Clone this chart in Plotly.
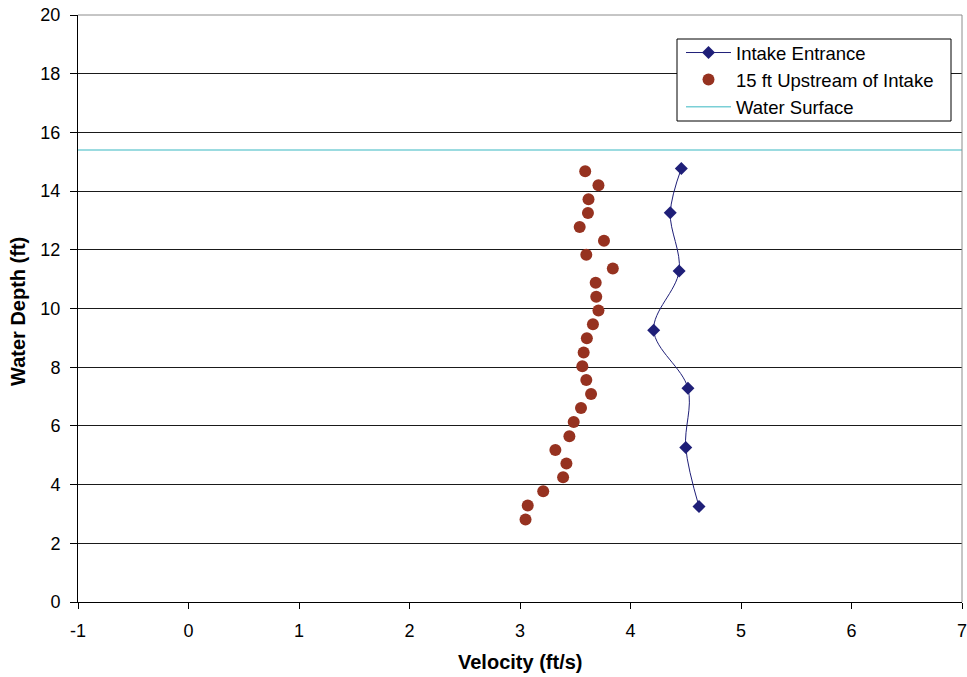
import plotly.graph_objects as go

# Intake Entrance
intake_velocity = [4.46, 4.36, 4.44, 4.21, 4.52, 4.50, 4.62]
intake_depth = [14.77, 13.26, 11.28, 9.26, 7.28, 5.26, 3.25]

# 15 ft Upstream of Intake
up_velocity = [3.59, 3.71, 3.62, 3.615, 3.54, 3.76, 3.60, 3.84, 3.685, 3.69, 3.71, 3.66, 3.605,
               3.576, 3.564, 3.60, 3.643, 3.552, 3.486, 3.447, 3.32, 3.42, 3.39, 3.21, 3.07, 3.05]
up_depth = [14.68, 14.20, 13.72, 13.25, 12.78, 12.31, 11.83, 11.36, 10.88, 10.40, 9.93, 9.46, 8.99,
            8.50, 8.03, 7.56, 7.09, 6.61, 6.13, 5.65, 5.18, 4.72, 4.25, 3.77, 3.29, 2.81]

# Water surface
surface_velocity = [-1, 7]
surface_depth = [15.4, 15.4]

# Tick labels
x_ticks = [-1, 0, 1, 2, 3, 4, 5, 6, 7]
x_tick_labels = ["-1", "0", "1", "2", "3", "4", "5", "6", "7"]
y_ticks = [0, 2, 4, 6, 8, 10, 12, 14, 16, 18, 20]
y_tick_labels = [str(v) for v in y_ticks]

font_family = "Liberation Sans, Arial, sans-serif"

W, H = 967, 677
L, R, T, B = 78, 5, 15, 75
PW, PH = W - L - R, H - T - B


def px_x(p):
    return (p - L) / PW


def px_y(p):
    return (H - B - p) / PH


fig = go.Figure()
fig.add_trace(go.Scatter(
    x=intake_velocity, y=intake_depth, mode="lines+markers", name="Intake Entrance",
    line=dict(color="#1F1F78", width=1, shape="spline", smoothing=1.0),
    marker=dict(symbol="diamond", size=10, color="#1F1F78"),
))
fig.add_trace(go.Scatter(
    x=up_velocity, y=up_depth, mode="markers", name="15 ft Upstream of Intake",
    marker=dict(symbol="circle", size=12, color="#963220"),
))
fig.add_trace(go.Scatter(
    x=surface_velocity, y=surface_depth, mode="lines", name="Water Surface",
    line=dict(color="#7ACFD6", width=1.5),
))

fig.update_layout(
    width=W, height=H,
    margin=dict(l=L, r=R, t=T, b=B, autoexpand=False),
    paper_bgcolor="white", plot_bgcolor="white",
    font=dict(family=font_family, size=18, color="black"),
    showlegend=True,
    legend=dict(
        x=px_x(681), y=px_y(34), xanchor="left", yanchor="top",
        bgcolor="rgba(0,0,0,0)", borderwidth=0,
        font=dict(size=18.5), tracegroupgap=0, itemwidth=45,
    ),
    xaxis=dict(
        range=[-1, 7], tickvals=x_ticks, ticktext=x_tick_labels,
        showgrid=False, zeroline=False, automargin=False,
        showline=True, linecolor="black", linewidth=1,
        ticks="outside", ticklen=6, tickcolor="black", ticklabelstandoff=6,
        ticklabeloverflow="allow",
    ),
    yaxis=dict(
        range=[0, 20], tickvals=y_ticks, ticktext=y_tick_labels,
        showgrid=True, gridcolor="#1a1a1a", gridwidth=1,
        zeroline=False, automargin=False,
        showline=True, linecolor="black", linewidth=1,
        ticks="outside", ticklen=7, tickcolor="black", ticklabelstandoff=6,
        ticklabeloverflow="allow",
    ),
    shapes=[
        # gray plot-area border (top / right)
        dict(type="line", xref="paper", yref="paper", x0=0, x1=1, y0=1, y1=1,
             line=dict(color="#8c8c8c", width=1), layer="above"),
        dict(type="line", xref="paper", yref="paper", x0=1, x1=1, y0=0, y1=1,
             line=dict(color="#8c8c8c", width=1), layer="above"),
        # legend box
        dict(type="rect", xref="paper", yref="paper",
             x0=px_x(677), x1=px_x(951), y0=px_y(121), y1=px_y(39),
             line=dict(color="black", width=1), fillcolor="white", layer="above"),
    ],
    annotations=[
        dict(text="<b>Velocity (ft/s)</b>", xref="paper", yref="paper",
             x=px_x(520), y=px_y(662), xanchor="center", yanchor="middle",
             showarrow=False, font=dict(size=20)),
        dict(text="<b>Water Depth (ft)</b>", xref="paper", yref="paper",
             x=px_x(18), y=px_y(312), xanchor="center", yanchor="middle",
             textangle=-90, showarrow=False, font=dict(size=20)),
    ],
)

fig.write_html(
    "out.html",
    config={"displayModeBar": False},
    post_script="document.body.style.margin='0';document.body.style.overflow='hidden';",
)
